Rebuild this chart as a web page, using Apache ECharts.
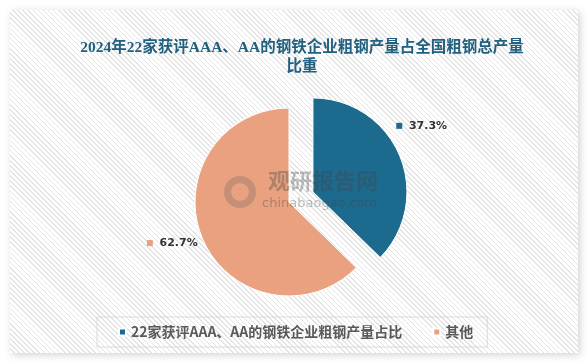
<!DOCTYPE html>
<html>
<head>
<meta charset="utf-8">
<script src="https://cdn.jsdelivr.net/npm/echarts@6/dist/echarts.min.js"></script>
<style>
  html, body { margin: 0; padding: 0; background: #ffffff; }
  #wrap { position: relative; width: 588px; height: 363px; overflow: hidden; background: #fff; }
  #panel {
    position: absolute; left: 10px; top: 10px; width: 568px; height: 343px;
    background-color: #ffffff;
    background-image: repeating-linear-gradient(45deg, #ffffff 0px, #ffffff 2.5px, #e4e4e4 2.5px, #e4e4e4 3.6px);
    box-shadow: 2px 2px 8px rgba(0,0,0,0.18);
  }
  #chart { position: absolute; left: 0; top: 0; width: 588px; height: 363px; }
</style>
</head>
<body>
<div id="wrap">
  <div id="panel"></div>
  <div id="chart"></div>
</div>
<script>
var titleLines = ['2024年22家获评AAA、AA的钢铁企业粗钢产量占全国粗钢总产量', '比重'];
var categories = ['22家获评AAA、AA的钢铁企业粗钢产量占比', '其他'];
var values = [37.3, 62.7];
var colors = ['#1c6a8e', '#e9a17f'];

var chart = echarts.init(document.getElementById('chart'), null, { renderer: 'canvas' });

var data = categories.map(function (c, i) {
  return {
    name: c,
    value: values[i],
    selected: i === 0,
    itemStyle: { color: colors[i] },
    label: { rich: { m: { backgroundColor: colors[i] } } }
  };
});

var labelShift = [[-12, -28], [4, 3]];

var option = {
  backgroundColor: 'transparent',
  animation: false,
  title: {
    text: titleLines.join('\n'),
    left: 297,
    textAlign: 'center',
    top: 33,
    textStyle: {
      fontFamily: '"Liberation Serif", "Noto Sans CJK SC", serif',
      fontSize: 15.5,
      fontWeight: 'bold',
      color: '#21617f',
      lineHeight: 19
    }
  },
  legend: {
    data: categories,
    bottom: 16,
    left: 97,
    itemWidth: 7,
    itemHeight: 7,
    itemGap: 30,
    icon: 'rect',
    borderColor: '#d9d9d9',
    borderWidth: 1,
    padding: [8, 14, 8, 21],
    textStyle: {
      fontFamily: '"Noto Sans CJK SC", sans-serif',
      fontSize: 14,
      fontWeight: 'bold',
      color: '#595959'
    }
  },
  graphic: [
    {
      type: 'text', left: 268, top: 170, z: 100,
      style: { text: '观研报告网', fontSize: 22, fontWeight: 'bold', fontFamily: '"Noto Sans CJK SC", sans-serif', fill: 'rgba(70,70,70,0.35)' }
    },
    {
      type: 'text', left: 262, top: 197, z: 100,
      style: { text: 'chinabaogao.com', fontSize: 13, fontFamily: '"DejaVu Sans", sans-serif', fill: 'rgba(70,70,70,0.35)' }
    },
    {
      type: 'ring', shape: { cx: 240, cy: 192, r: 16, r0: 9 }, z: 100,
      style: { fill: 'rgba(90,90,90,0.25)' }
    }
  ],
  series: [{
    type: 'pie',
    center: [289, 202],
    radius: 94,
    startAngle: 90,
    clockwise: true,
    selectedMode: 'single',
    selectedOffset: 26,
    data: data,
    itemStyle: { borderColor: '#ffffff', borderWidth: 1 },
    emphasis: { disabled: true },
    label: {
      show: true,
      position: 'outside',
      formatter: function (p) { return '{m|}  {v|' + p.value.toFixed(1) + '%}'; },
      rich: {
        m: { width: 6, height: 6 },
        v: { fontSize: 11, fontWeight: 'bold', color: '#333333', fontFamily: '"DejaVu Sans", sans-serif' }
      }
    },
    labelLine: { show: false, length: 4, length2: 0 },
    labelLayout: function (p) {
      var s = labelShift[p.dataIndex];
      return { dx: s[0], dy: s[1] };
    }
  }]
};
chart.setOption(option);
</script>
</body>
</html>
